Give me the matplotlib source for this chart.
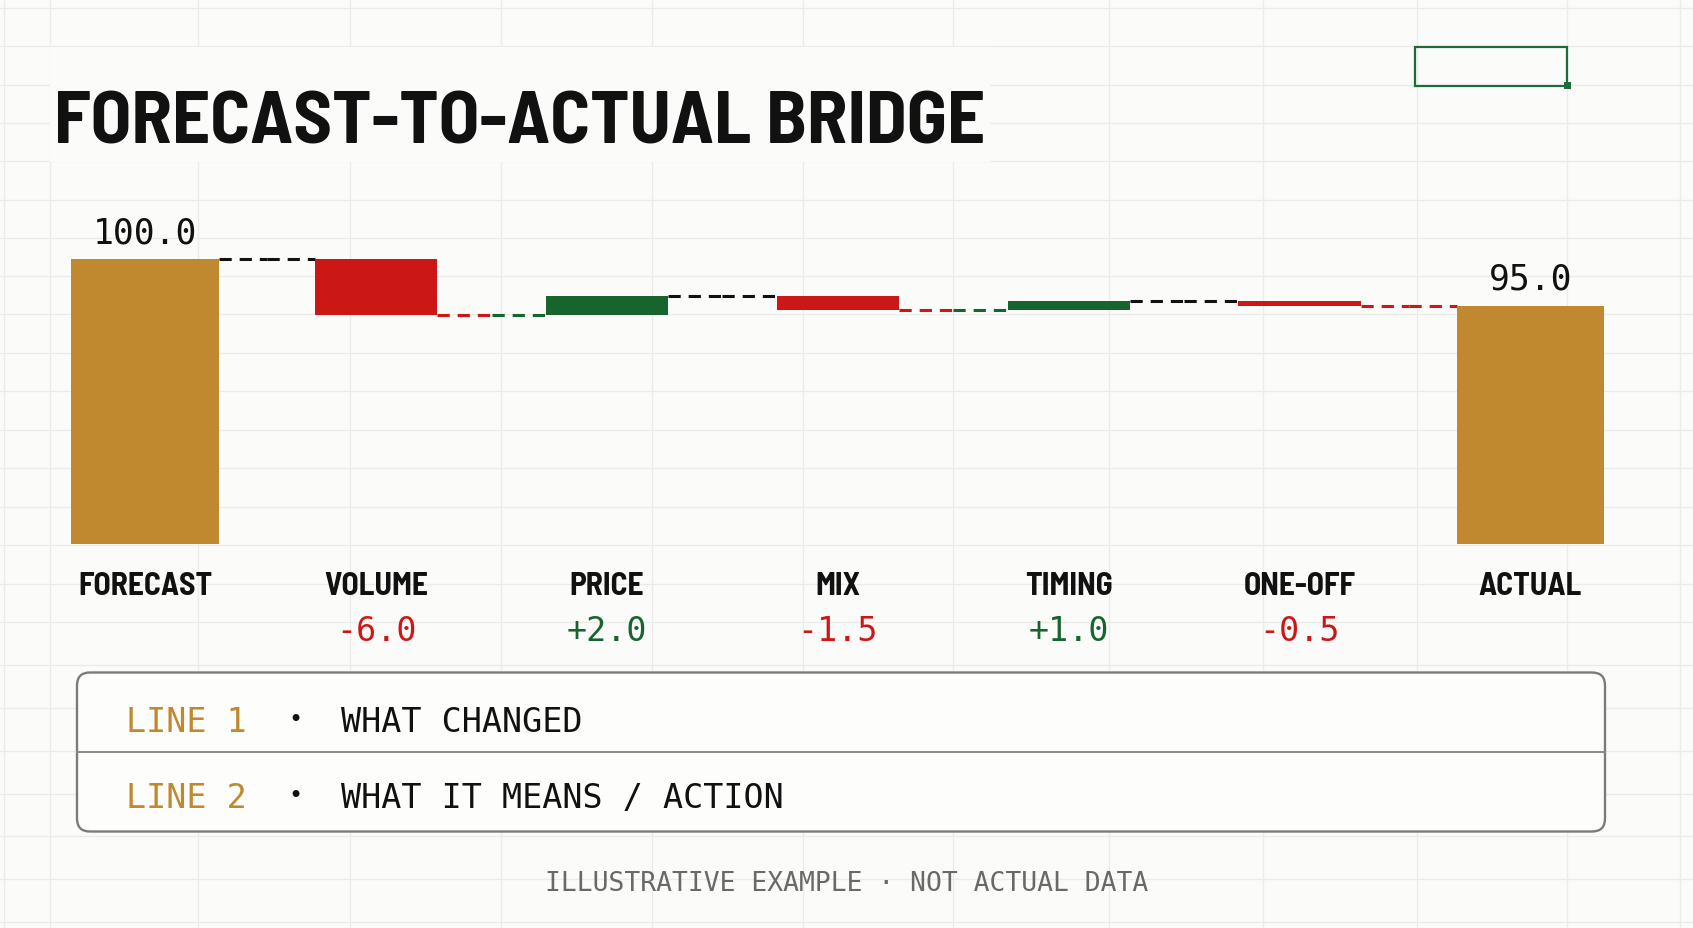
import os
import numpy as np
import matplotlib
matplotlib.use('Agg')
import matplotlib.pyplot as plt
from matplotlib import transforms
from matplotlib import font_manager as fm
from matplotlib.patches import FancyBboxPatch, Rectangle

# data
categories = ['FORECAST', 'VOLUME', 'PRICE', 'MIX', 'TIMING', 'ONE-OFF', 'ACTUAL']
forecast = 100.0
deltas = [-6.0, 2.0, -1.5, 1.0, -0.5]
actual = 95.0
note_tags = ['LINE 1', 'LINE 2']
note_texts = ['WHAT CHANGED', 'WHAT IT MEANS / ACTION']
title = 'FORECAST-TO-ACTUAL BRIDGE'
footer = 'ILLUSTRATIVE EXAMPLE · NOT ACTUAL DATA'

GOLD = '#c0882f'
RED = '#cc1717'
GREEN = '#17642f'
INK = '#111111'
BG = '#fbfbf9'
GRID = '#ebebe8'
MONO = 'DejaVu Sans Mono'


def pick_condensed_bold():
    # look for a narrow bold face; fall back to Roboto bold
    best, best_rank = None, 99
    for f in fm.fontManager.ttflist:
        base = os.path.basename(f.fname).lower().replace('-', '').replace('_', '')
        if 'italic' in base or 'semibold' in base or 'extrabold' in base or 'bold' not in base:
            continue
        if 'semicondensed' in base or f.stretch == 'semi-condensed':
            rank = 0
        elif 'narrow' in base:
            rank = 1
        elif 'extracondensed' in base or f.stretch == 'extra-condensed':
            rank = 3
        elif 'condensed' in base or f.stretch == 'condensed':
            rank = 2
        else:
            continue
        if 'mono' in base or 'serif' in base:
            rank += 10
        if rank < best_rank:
            best, best_rank = f, rank
    if best is not None:
        return fm.FontProperties(fname=best.fname)
    return fm.FontProperties(family='Roboto', weight='bold')


COND = pick_condensed_bold()

W, H = 1693, 929
fig = plt.figure(figsize=(W / 100, H / 100), dpi=100)
fig.patch.set_facecolor(BG)
renderer = fig.canvas.get_renderer()


def fit_size(artist, target_px):
    w = artist.get_window_extent(renderer).width
    artist.set_fontsize(artist.get_fontsize() * target_px / w)


# background layer in pixel coords (spreadsheet look)
bg = fig.add_axes([0, 0, 1, 1])
bg.set_xlim(0, W)
bg.set_ylim(H, 0)
bg.axis('off')
bg.set_facecolor(BG)

vlines = [4, 50, 198, 350, 501, 652, 803, 953, 1109, 1263, 1417, 1567, 1680]
hlines = list(np.arange(9, 320, 38.3)) + list(np.linspace(315, 623, 9)[1:]) + list(np.arange(623, 929, 42.9)[1:])
for xv in vlines:
    bg.axvline(xv, color=GRID, lw=0.9, zorder=0)
for yh in hlines:
    bg.axhline(yh, color=GRID, lw=0.9, zorder=0)
# title band hides the grid
bg.add_patch(Rectangle((50, 48), 940, 115, facecolor=BG, edgecolor='none', zorder=1))

# selected cell
bg.add_patch(Rectangle((1415, 47.5), 152, 39, fill=False, edgecolor='#1d6b3a', lw=1.6, zorder=2))
bg.add_patch(Rectangle((1563.5, 83), 7, 7, facecolor='#1d6b3a', edgecolor='none', zorder=3))

t = bg.text(54, 143.6, title, fontproperties=COND, fontsize=52, color=INK,
            ha='left', va='baseline', zorder=4)
fit_size(t, 931)

# notes box
bg.add_patch(FancyBboxPatch((77, 673.5), 1528, 159, boxstyle='round,pad=0,rounding_size=13',
                            facecolor='#fdfdfc', edgecolor='#7d7b78', lw=1.7, zorder=2))
bg.plot([77, 1605], [752.5, 752.5], color='#8a8885', lw=1.4, zorder=3)
for tag, txt, yb in zip(note_tags, note_texts, [732, 807.6]):
    bg.text(126, yb, tag, fontsize=24, family=MONO, color=GOLD, ha='left', va='baseline', zorder=4)
    bg.text(296, yb - 12, '•', fontsize=17, family=MONO, color=INK, ha='center', va='center', zorder=4)
    bg.text(341, yb, txt, fontsize=24, family=MONO, color=INK, ha='left', va='baseline', zorder=4)

bg.text(846.5, 890.7, footer, fontsize=19, family=MONO, color='#6b6966', ha='center', va='baseline')

# waterfall
ylo, yhi = 69.3, 104.0
ax = fig.add_axes([29.8 / W, 1 - 545.2 / H, (1645.9 - 29.8) / W, (545.2 - 223.1) / H])
ax.set_xlim(-0.5, 6.5)
ax.set_ylim(ylo, yhi)
ax.axis('off')
ax.patch.set_alpha(0)

levels = forecast + np.cumsum(deltas)
starts = [forecast] + list(levels[:-1])
n = len(categories)
widths = [0.64] + [0.53] * len(deltas) + [0.64]

ax.bar(0, forecast - ylo, bottom=ylo, width=widths[0], color=GOLD, zorder=3)
for i, d in enumerate(deltas):
    ax.bar(i + 1, d, bottom=starts[i], width=widths[i + 1], color=RED if d < 0 else GREEN, zorder=3)
ax.bar(n - 1, actual - ylo, bottom=ylo, width=widths[-1], color=GOLD, zorder=3)

# connectors
ends = [forecast] + list(levels)
signs = [0] + list(np.sign(deltas)) + [0]
for i in range(n - 1):
    x0 = i + widths[i] / 2
    x1 = i + 1 - widths[i + 1] / 2
    xm = (x0 + x1) / 2
    c1 = RED if signs[i] < 0 else INK
    if signs[i] < 0:
        c2 = GREEN if signs[i + 1] > 0 else RED
    else:
        c2 = INK
    ax.plot([x0, xm], [ends[i]] * 2, color=c1, lw=2.2, ls=(0, (4, 2.6)), zorder=2)
    ax.plot([xm, x1], [ends[i]] * 2, color=c2, lw=2.2, ls=(0, (4, 2.6)), zorder=2)

for xi, v in [(0, forecast), (n - 1, actual)]:
    ax.annotate(f'{v:.1f}', (xi, v), xytext=(0, 12), textcoords='offset points',
                ha='center', va='baseline', fontsize=25, family=MONO, color=INK)

trans = transforms.blended_transform_factory(ax.transData, bg.transData)
labels = []
for i, cat in enumerate(categories):
    labels.append(ax.text(i, 595, cat, transform=trans, fontproperties=COND, fontsize=22,
                          color=INK, ha='center', va='baseline'))
fit_size(labels[0], 134)
for lab in labels[1:]:
    lab.set_fontsize(labels[0].get_fontsize())
for i, d in enumerate(deltas):
    ax.text(i + 1, 641, f'{d:+.1f}', transform=trans, fontsize=24, family=MONO,
            color=RED if d < 0 else GREEN, ha='center', va='baseline')

fig.savefig('out.png', dpi=100, facecolor=BG)
